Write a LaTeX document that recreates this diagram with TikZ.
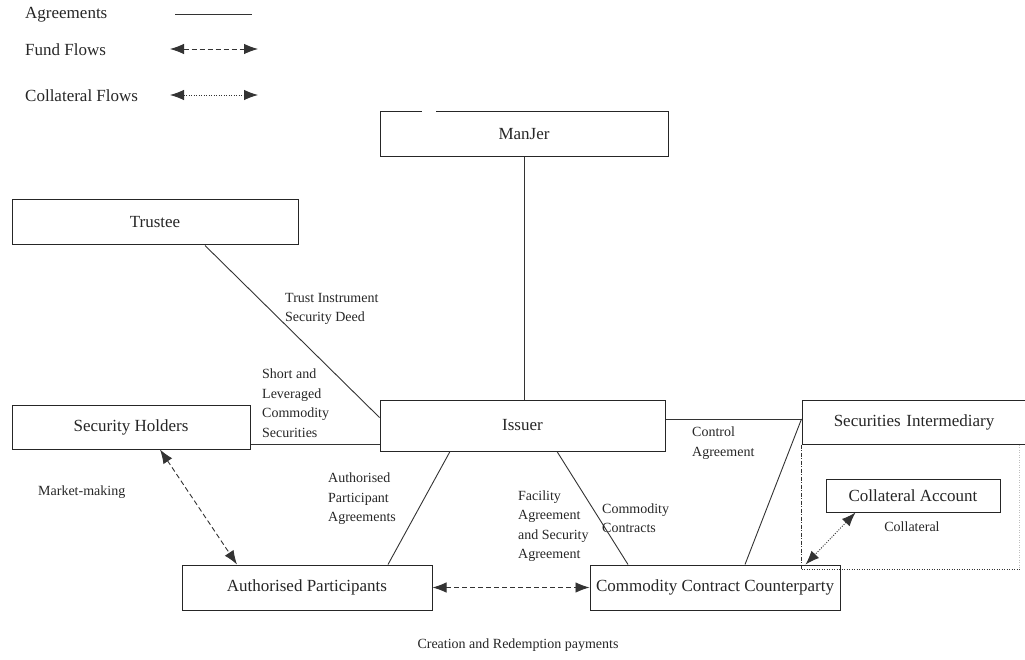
\documentclass[tikz,border=0pt]{standalone}
\usepackage{fontspec}
\setmainfont{Liberation Serif}
\usetikzlibrary{arrows.meta,positioning}
\tikzset{
  box/.style = {rectangle, draw=black!85, line width=1pt, inner sep=0pt,
    align=center, text=black!85, font=\fontsize{17}{20}\selectfont},% boxes of the parties
  lbl/.style = {align=left, inner sep=0pt, anchor=west, text=black!85,
    font=\fontsize{14}{19.5}\selectfont},% labels along the lines
  leg/.style = {inner sep=0pt, anchor=west, text=black!85,
    font=\fontsize{17}{20}\selectfont},% legend texts
  agree/.style = {draw=black!80, line width=0.9pt},% agreements
  fund/.style = {agree, <->, dash pattern=on 5pt off 3pt},% fund flows
  coll/.style = {agree, <->, dash pattern=on 1pt off 1.5pt}% collateral flows
}

\begin{document}
\begin{tikzpicture}[x=1pt,y=-1pt,>={Latex[length=14pt,width=10.5pt]}]
        \useasboundingbox (0,0) rectangle (1025,660);

        % legend
        \node [leg](lagree) at (25,15){Agreements};
        \node [leg](lfund) at (25,50){Fund Flows};
        \node [leg](lcoll) at (25,96){Collateral Flows};
        \coordinate (a1) at (175,14);  \coordinate (a2) at (252,14);
        \coordinate (f1) at (170,49);  \coordinate (f2) at (258,49);
        \coordinate (c1) at (170,95);  \coordinate (c2) at (258,95);
        \draw [agree] (a1) -- (a2);
        \draw [fund] (f1) -- (f2);
        \draw [coll] (c1) -- (c2);

        % parties
        \node [box, minimum width=288pt, minimum height=45pt](manjer) at (524,134.5){ManJer};
        \draw [white, line width=2pt] ([xshift=42pt]manjer.north west) -- ++(14,0);
        \node [box, minimum width=286pt, minimum height=45pt](trustee) at (155,222.5){Trustee};
        \node [box, minimum width=238pt, minimum height=44pt](holders) at (131,427){Security Holders};
        \node [box, minimum width=285pt, minimum height=51pt](issuer) at (522.5,425.5){Issuer};
        \node [box, minimum width=228pt, minimum height=44pt, text width=223pt](secint) at (916,422){\hspace*{-4pt}Securities Intermediary};
        \draw [black!80, line width=0.8pt, dash pattern=on 4pt off 1.5pt on 1pt off 1.5pt]
          (secint.south west) -- ++(0,125);
        \draw [black!80, line width=0.8pt, dash pattern=on 1pt off 1.5pt]
          ([yshift=-125pt]secint.south west) -- ++(220,0);
        \draw [black!25, line width=0.6pt, dash pattern=on 1pt off 1.5pt]
          ([xshift=218pt]secint.south west) -- ++(0,125);
        \node [box, minimum width=174pt, minimum height=33pt](collacct) at (913,495.5){Collateral Account};
        \node [box, minimum width=250pt, minimum height=45pt](ap) at (307,587.5){Authorised Participants};
        \node [box, minimum width=250pt, minimum height=45pt](ccc) at (715,587.5){Commodity Contract Counterparty};

        % agreements
        \draw [agree] (manjer.south) -- (manjer.south |- issuer.north);
        \draw [agree] ([xshift=50pt]trustee.south) -- ([yshift=8pt]issuer.west);
        \draw [agree] ([yshift=-17pt]holders.east) -- ([yshift=-17pt]holders.east -| issuer.west);
        \draw [agree] ([xshift=-72.5pt]issuer.south) -- ([xshift=81pt]ap.north);
        \draw [agree] ([xshift=34.5pt]issuer.south) -- ([xshift=-87pt]ccc.north);
        \draw [agree] ([yshift=6.5pt]issuer.east) -- ([yshift=6.5pt]issuer.east -| secint.west);
        \draw [agree] ([yshift=6.5pt]issuer.east -| secint.west) -- ([xshift=30pt]ccc.north);

        % flows
        \draw [fund] ([xshift=29pt]holders.south) -- ([xshift=-70pt]ap.north);
        \draw [fund] (ap.east) -- (ccc.west);
        \draw [coll] ([xshift=30pt]collacct.south west) -- ([xshift=-35pt]ccc.north east);

        % labels
        \node [lbl](ltrust) at (285,309){Trust Instrument\\Security Deed};
        \node [lbl](lshort) at (262,403){Short and\\Leveraged\\Commodity\\Securities};
        \node [lbl](lcontrol) at (692,443){Control\\Agreement};
        \node [lbl](lapagr) at (328,499){Authorised\\Participant\\Agreements};
        \node [lbl](lfacil) at (518,526){Facility\\Agreement\\and Security\\Agreement};
        \node [lbl](lcontr) at (602,518){Commodity\\Contracts};
        \node [lbl](lmarket) at (38,492){Market-making};
        \node [lbl, anchor=center](lcreate) at (518,645){Creation and Redemption payments};
        \node [lbl, anchor=center](lcollat) at (912,527){Collateral};

        \end{tikzpicture}
\end{document}
